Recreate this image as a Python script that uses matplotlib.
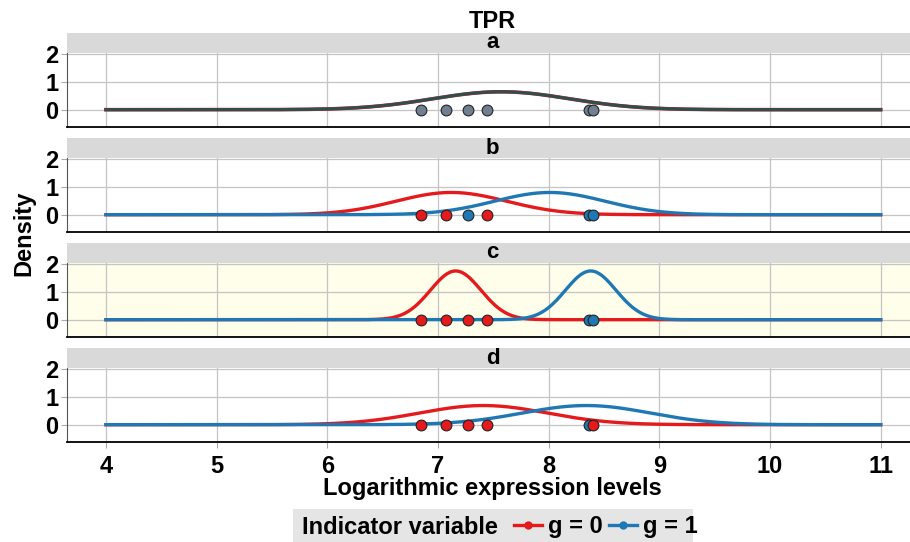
import numpy as np
import matplotlib
matplotlib.use("Agg")
import matplotlib.pyplot as plt
from matplotlib.patches import Rectangle
from matplotlib.lines import Line2D

plt.rcParams['font.family'] = ['Liberation Sans', 'DejaVu Sans']
plt.rcParams['font.weight'] = 'bold'

# ---- data ----
panels = ['a', 'b', 'c', 'd']
points_x = [6.85, 7.075, 7.27, 7.446, 8.36, 8.40]
groups = {
    'a': [None, None, None, None, None, None],
    'b': [0, 0, 1, 0, 1, 1],
    'c': [0, 0, 0, 0, 1, 1],
    'd': [0, 0, 0, 0, 1, 0],
}
# fitted normal densities (mean, sd) per group
curve_a = (7.57, 0.62)
curve_g0 = {'b': (7.12, 0.50), 'c': (7.16, 0.228), 'd': (7.41, 0.58)}
curve_g1 = {'b': (8.01, 0.50), 'c': (8.38, 0.228), 'd': (8.34, 0.58)}
x_ticks = [4, 5, 6, 7, 8, 9, 10, 11]
y_ticks = [0, 1, 2]
highlight = 'c'

RED = '#E41A1C'
BLUE = '#1F78B4'
SLATE = '#2F4F4F'
GRAYPT = '#708090'

W, H = 910, 542
fig = plt.figure(figsize=(W / 100, H / 100), dpi=100)

def px_rect(left, top, right, bottom):
    return [left / W, 1 - bottom / H, (right - left) / W, (bottom - top) / H]

xs = np.linspace(4, 11, 600)

def npdf(x, m, s):
    return np.exp(-0.5 * ((x - m) / s) ** 2) / (s * np.sqrt(2 * np.pi))

left, right = 67, 918
for i, p in enumerate(panels):
    top = 53 + 105 * i
    bottom = top + 73.5
    # strip
    fig.patches.append(Rectangle((left / W, 1 - top / H), (right - left) / W, 20 / H,
                                 transform=fig.transFigure, facecolor='#D9D9D9',
                                 edgecolor='none', zorder=0))
    fig.text((left + right) / 2 / W, 1 - (top - 10) / H, p, ha='center', va='center',
             fontsize=16, fontweight='bold')
    ax = fig.add_axes(px_rect(left, top, right, bottom))
    ax.set_facecolor('#FEFEEA' if p == highlight else 'white')
    ax.set_xlim(3.648, 11.337)
    ax.set_ylim(-0.604, 2.036)
    ax.set_xticks(x_ticks)
    ax.set_yticks(y_ticks)
    ax.grid(True, color='#C4C4C4', lw=0.9, zorder=0)
    ax.set_axisbelow(True)
    for s in ['top', 'right']:
        ax.spines[s].set_visible(False)
    ax.spines['left'].set_color('#555555')
    ax.spines['left'].set_linewidth(0.8)
    ax.spines['bottom'].set_color('black')
    ax.spines['bottom'].set_linewidth(1.3)
    ax.tick_params(axis='y', length=4, color='#AAAAAA', labelsize=17, pad=2)
    ax.tick_params(axis='x', length=4, color='#AAAAAA', labelsize=17, pad=6)
    for lab in ax.get_yticklabels() + ax.get_xticklabels():
        lab.set_fontweight('bold')
    if i < len(panels) - 1:
        ax.tick_params(axis='x', labelbottom=False, length=0)

    if p == 'a':
        ax.plot(xs, npdf(xs, *curve_a), color=RED, lw=2.6, zorder=2)
        ax.plot(xs, npdf(xs, *curve_a), color=SLATE, lw=2.3, zorder=3)
        ax.scatter(points_x, [0] * len(points_x), s=60, color=GRAYPT,
                   edgecolor='#222222', linewidth=0.8, zorder=4)
    else:
        ax.plot(xs, npdf(xs, *curve_g0[p]), color=RED, lw=2.4, zorder=2)
        ax.plot(xs, npdf(xs, *curve_g1[p]), color=BLUE, lw=2.4, zorder=3)
        cols = [RED if g == 0 else BLUE for g in groups[p]]
        for k, (x, c) in enumerate(zip(points_x, cols)):
            ax.scatter([x], [0], s=60, color=c, edgecolor='#222222',
                       linewidth=0.8, zorder=4 + k)

# title and axis labels
fig.text(492 / W, 1 - 33 / H, 'TPR', ha='center', va='bottom', fontsize=17, fontweight='bold')
fig.text(492 / W, 1 - 488 / H, 'Logarithmic expression levels', ha='center', va='center',
         fontsize=17, fontweight='bold')
fig.text(24 / W, 1 - 233 / H, 'Density', ha='center', va='center', rotation=90,
         fontsize=17, fontweight='bold')

# legend
fig.patches.append(Rectangle((293 / W, 0), 400 / W, 33 / H, transform=fig.transFigure,
                             facecolor='#E5E5E5', edgecolor='none', zorder=0))
fig.text(302 / W, 1 - 527 / H, 'Indicator variable', ha='left', va='center',
         fontsize=17, fontweight='bold')
h0 = Line2D([], [], color=RED, lw=2.4, marker='o', markersize=5, markeredgecolor=RED)
h1 = Line2D([], [], color=BLUE, lw=2.4, marker='o', markersize=5, markeredgecolor=BLUE)
leg = fig.legend([h0, h1], ['g = 0', 'g = 1'], loc='center left',
                 bbox_to_anchor=(514 / W, 1 - 527 / H), ncol=2, frameon=False,
                 handlelength=1.2, handletextpad=0.25, columnspacing=0.25,
                 prop={'size': 17, 'weight': 'bold'}, borderpad=0, borderaxespad=0)

fig.savefig('out.png', dpi=100)
